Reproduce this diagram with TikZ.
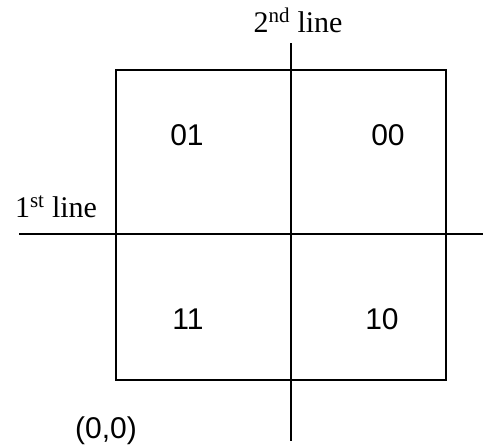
\documentclass[tikz,border=0pt]{standalone}
\usepackage{fontspec}
\setmainfont{Liberation Serif}
\setsansfont{Liberation Sans}
\usetikzlibrary{positioning}

\begin{document}
\begin{tikzpicture}[
    x=1pt, y=-1pt,
    frame/.style={draw, line width=1.5pt},
    divider/.style={draw, line width=1.4pt},
    code/.style={anchor=base, inner sep=0pt, font=\fontsize{30}{34}\selectfont\sffamily},
    linelabel/.style={anchor=base, inner sep=0pt, font=\fontsize{30}{34}\selectfont}
]
    \useasboundingbox (0,0) rectangle (488,447);

    % square and the two dividing lines
    \coordinate (sqNW) at (116,70);
    \coordinate (sqSE) at (446,380);
    \coordinate (vTop) at (291,43);
    \coordinate (vBot) at (291,441);
    \coordinate (hLeft) at (19,234);
    \coordinate (hRight) at (483,234);

    \draw[frame] (sqNW) rectangle (sqSE);
    \draw[divider] (vTop) -- (vBot);
    \draw[divider] (hLeft) -- (hRight);

    % line labels
    \node[linelabel] (second) at (298,32) {2\textsuperscript{nd} line};
    \node[linelabel] (first) at (56,217) {1\textsuperscript{st} line};

    % region codes
    \node[code] (c01) at (187,145) {01};
    \node[code] (c00) at (388,145) {00};
    \node[code] (c11) at (188,329) {11};
    \node[code] (c10) at (382,329) {10};

    \node[code] (origin) at (106,438) {(0,0)};
\end{tikzpicture}
\end{document}
